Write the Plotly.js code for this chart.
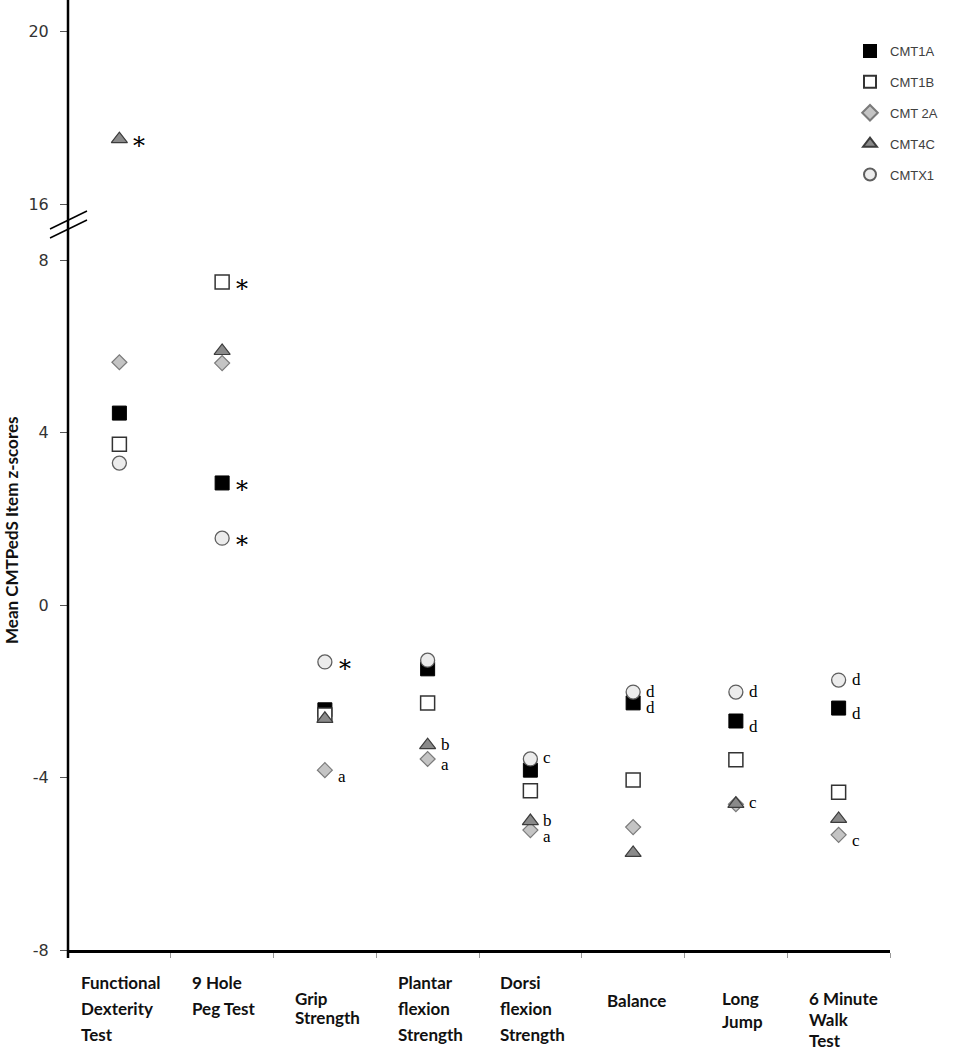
<!DOCTYPE html>
<html>
<head>
<meta charset="utf-8">
<script src="https://cdn.plot.ly/plotly-3.0.1.min.js"></script>
<style>html,body{margin:0;padding:0;background:#fff;}#chart{width:960px;height:1050px;}</style>
</head>
<body>
<div id="chart"></div>
<script>
// ---------- DATA ----------
const categories = ["Functional Dexterity Test", "9 Hole Peg Test", "Grip Strength", "Plantar flexion Strength",
  "Dorsi flexion Strength", "Balance", "Long Jump", "6 Minute Walk Test"];
const categoryLabelLines = [["Functional", "Dexterity", "Test"], ["9 Hole", "Peg Test"], ["Grip", "Strength"],
  ["Plantar", "flexion", "Strength"], ["Dorsi", "flexion", "Strength"], ["Balance"], ["Long", "Jump"], ["6 Minute", "Walk", "Test"]];
const seriesNames = ["CMT1A", "CMT1B", "CMT 2A", "CMT4C", "CMTX1"];
const cmt1a = [4.45, 2.83, -2.43, -1.48, -3.83, -2.27, -2.69, -2.39];
const cmt1b = [3.73, 7.49, -2.55, -2.27, -4.31, -4.06, -3.59, -4.34];
const cmt2a = [5.63, 5.61, -3.83, -3.57, -5.22, -5.15, -4.62, -5.33];
const cmt4c = [17.5, 5.89, -2.64, -3.25, -5.01, -5.75, -4.61, -4.96];
const cmtx1 = [3.29, 1.55, -1.32, -1.28, -3.57, -2.02, -2.02, -1.74];
// significance marks next to each point
const marks1a = ["", "*", "", "", "", "d", "d", "d"];
const marks1b = ["", "*", "", "", "", "", "", ""];
const marks2a = ["", "", "a", "a", "a", "", "", "c"];
const marks4c = ["*", "", "", "b", "b", "", "c", ""];
const marksx1 = ["", "*", "*", "", "c", "d", "d", "d"];
const yTicksLower = [-8, -4, 0, 4, 8];
const yTickTextLower = ["-8", "-4", "0", "4", "8"];
const yTicksUpper = [16, 20];
const yTickTextUpper = ["16", "20"];
const breakValue = 16;

// ---------- STYLE ----------
const styles = [
  {symbol: "square", size: 14, color: "#000000", line: {color: "#000000", width: 1}},
  {symbol: "square", size: 14, color: "#ffffff", line: {color: "#333333", width: 1.5}},
  {symbol: "diamond", size: 11.5, color: "#c4c4c4", line: {color: "#7a7a7a", width: 1.2}},
  {symbol: "triangle-up", size: 14, color: "#8a8a8a", line: {color: "#3c3c3c", width: 1.2}},
  {symbol: "circle", size: 14, color: "#ececec", line: {color: "#5e5e5e", width: 1.3}}
];
const markYShift = [-5, 0, -6, 1, 1];
const allSeries = [cmt1a, cmt1b, cmt2a, cmt4c, cmtx1];
const allMarks = [marks1a, marks1b, marks2a, marks4c, marksx1];
const xIdx = categories.map((c, i) => i);

const traces = [];
allSeries.forEach((vals, s) => {
  const lower = vals.map(v => v < breakValue ? v : null);
  const upper = vals.map(v => v >= breakValue ? v : null);
  traces.push({
    type: "scatter", mode: "markers", x: xIdx, y: lower, name: seriesNames[s],
    legendgroup: "g" + s, showlegend: true, xaxis: "x", yaxis: "y",
    marker: {symbol: styles[s].symbol, size: styles[s].size, color: styles[s].color, line: styles[s].line},
    hoverinfo: "skip"
  });
  if (upper.some(v => v !== null)) {
    traces.push({
      type: "scatter", mode: "markers", x: xIdx, y: upper, name: seriesNames[s],
      legendgroup: "g" + s, showlegend: false, xaxis: "x", yaxis: "y2",
      marker: {symbol: styles[s].symbol, size: styles[s].size, color: styles[s].color, line: styles[s].line},
      hoverinfo: "skip"
    });
  }
});

// geometry helpers (plot area: left 68, right 890, top 0, bottom 950)
const PL = 68, PR = 890, PT = 0, PB = 950;
const px2paperX = px => (px - PL) / (PR - PL);
const px2paperY = py => (PB - py) / (PB - PT);

const annotations = [];
allSeries.forEach((vals, s) => {
  vals.forEach((v, i) => {
    const m = allMarks[s][i];
    if (!m) return;
    const isStar = m === "*";
    annotations.push({
      x: i, y: v, xref: "x", yref: v >= breakValue ? "y2" : "y",
      text: m, showarrow: false, xanchor: "left", yanchor: "middle",
      xshift: isStar ? 12 : 11, yshift: isStar ? -7 : markYShift[s],
      font: isStar ? {family: "DejaVu Serif", size: 24, color: "#000"} : {family: "Liberation Serif", size: 17, color: "#000"}
    });
  });
});

// category labels (one annotation per line)
const labelFirstY = [982, 982, 998, 982, 982, 1000, 999, 998];
const labelGap = [26, 27, 20, 26, 26, 0, 22, 21];
categoryLabelLines.forEach((lines, i) => {
  const longest = Math.max(...lines.map(l => l.length));
  lines.forEach((line, k) => {
    annotations.push({
      x: i, y: px2paperY(labelFirstY[i] + k * labelGap[i]), xref: "x", yref: "paper",
      text: "<b>" + line + "</b>", showarrow: false, xanchor: "left", yanchor: "middle",
      xshift: -longest * 4.0, align: "left",
      font: {family: "Lato", size: 17, color: "#111"}
    });
  });
});

// y-axis title
annotations.push({
  x: px2paperX(11), y: px2paperY(530), xref: "paper", yref: "paper",
  text: "<b>Mean CMTPedS Item z-scores</b>", textangle: -90, showarrow: false,
  xanchor: "center", yanchor: "middle", font: {family: "Lato", size: 17, color: "#111"}
});

const shapes = [
  {type: "line", xref: "paper", yref: "paper", x0: 0, x1: 0, y0: px2paperY(958), y1: 1, line: {color: "#000", width: 2.5}},
  {type: "line", xref: "paper", yref: "paper", x0: px2paperX(50), y0: px2paperY(229), x1: px2paperX(87), y1: px2paperY(211), line: {color: "#000", width: 1.5}},
  {type: "line", xref: "paper", yref: "paper", x0: px2paperX(50), y0: px2paperY(238), x1: px2paperX(87), y1: px2paperY(220), line: {color: "#000", width: 1.5}}
];

const tickFont = {family: "DejaVu Sans", size: 16, color: "#333"};
const layout = {
  width: 960, height: 1050,
  margin: {l: PL, r: 960 - PR, t: PT, b: 1050 - PB, pad: 0},
  paper_bgcolor: "#fff", plot_bgcolor: "#fff",
  showlegend: true,
  legend: {x: px2paperX(850), y: px2paperY(36), xanchor: "left", yanchor: "top",
    font: {family: "Liberation Sans", size: 13, color: "#404040"}, tracegroupgap: 11,
    itemsizing: "constant", bgcolor: "rgba(0,0,0,0)", borderwidth: 0},
  xaxis: {range: [-0.5, 7.5], tickvals: [0.5, 1.5, 2.5, 3.5, 4.5, 5.5, 6.5, 7.5], showticklabels: false,
    ticks: "outside", ticklen: 5, tickwidth: 1, tickcolor: "#999", showgrid: false, zeroline: false,
    showline: true, linecolor: "#000", linewidth: 2.5, anchor: "y", fixedrange: true},
  yaxis: {domain: [0, px2paperY(260)], range: [-8, 8], tickvals: yTicksLower, ticktext: yTickTextLower, ticks: "outside", ticklen: 7,
    tickwidth: 1, tickcolor: "#555", showgrid: false, zeroline: false, showline: false, tickfont: tickFont,
    anchor: "x", ticklabelstandoff: 8},
  yaxis2: {domain: [px2paperY(204), px2paperY(31)], range: [16, 20], tickvals: yTicksUpper, ticktext: yTickTextUpper, ticks: "outside", ticklen: 7,
    tickwidth: 1, tickcolor: "#555", showgrid: false, zeroline: false, showline: false, tickfont: tickFont,
    anchor: "x", ticklabelstandoff: 8},
  annotations: annotations,
  shapes: shapes
};

Plotly.newPlot("chart", traces, layout, {displayModeBar: false, staticPlot: true});
</script>
</body>
</html>
